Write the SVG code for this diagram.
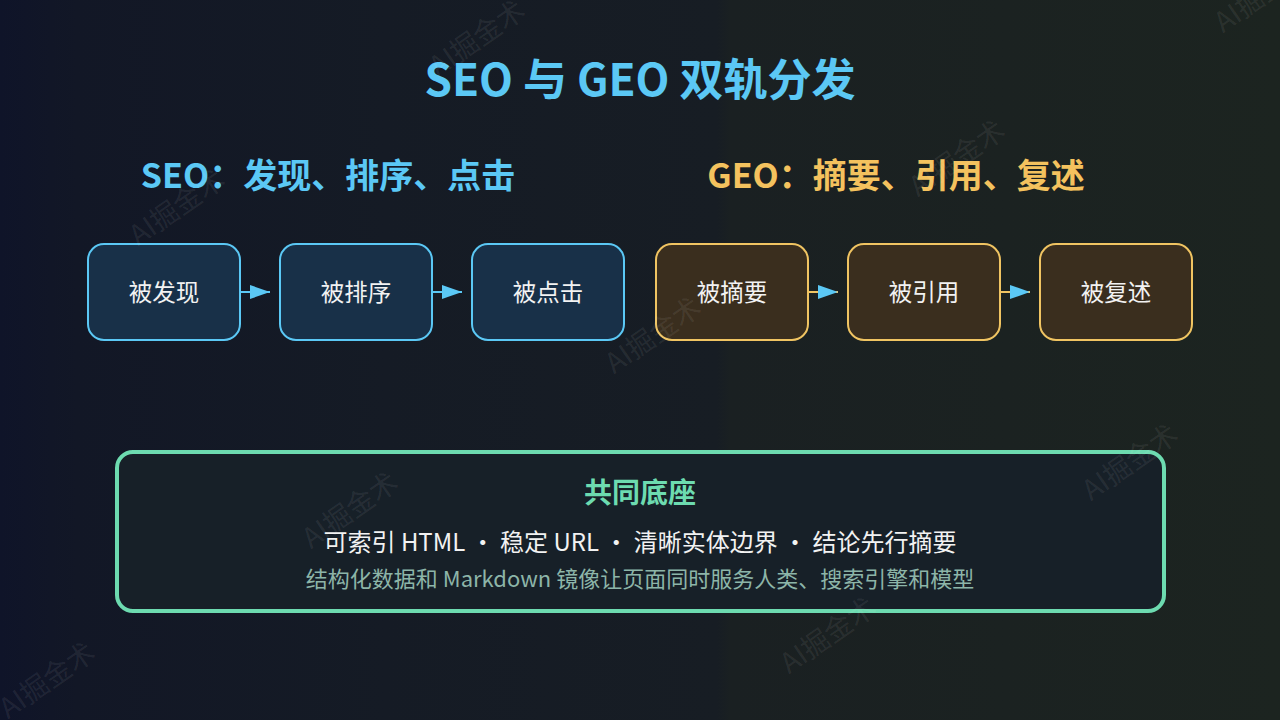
<svg xmlns="http://www.w3.org/2000/svg" width="1280" height="720" viewBox="0 0 1280 720">
<defs>
<linearGradient id="bg" x1="0" y1="0" x2="1" y2="0">
<stop offset="0" stop-color="#0f1429"/>
<stop offset="0.06" stop-color="#121726"/>
<stop offset="0.3" stop-color="#151b25"/>
<stop offset="0.56" stop-color="#171d24"/>
<stop offset="0.57" stop-color="#1a2022"/>
<stop offset="1" stop-color="#1c2420"/>
</linearGradient>
<marker id="ah" viewBox="0 0 20 14" refX="20" refY="7" markerWidth="20" markerHeight="14" markerUnits="userSpaceOnUse" orient="auto">
<path d="M0,0 L20,7 L0,14 Z" fill="#5bc8f5"/>
</marker>
<style>
text{font-family:"Noto Sans CJK SC","Noto Sans",sans-serif;}
.wm{font-size:28px;fill:#ffffff;fill-opacity:0.08;text-anchor:middle;}
.seo rect{fill:#183048;stroke:#5bc8f5;stroke-width:2;}
.geo rect{fill:#3a2e1e;stroke:#f0c462;stroke-width:2;}
.node text{font-size:23.5px;fill:#f2f2f2;text-anchor:middle;}
.c-seo{stroke:#5bc8f5;stroke-width:2;fill:none;}
.c-geo{stroke:#f0c462;stroke-width:2;fill:none;}
</style>
</defs>
<rect width="1280" height="720" fill="url(#bg)"/>
<g id="title">
<text x="640" y="96" font-size="44" font-weight="700" fill="#5bc8f5" text-anchor="middle">SEO 与 GEO 双轨分发</text>
</g>
<g id="seo-heading">
<text x="328" y="188" font-size="34" font-weight="700" fill="#5bc8f5" text-anchor="middle">SEO：发现、排序、点击</text>
</g>
<g id="geo-heading">
<text x="896" y="188" font-size="34" font-weight="700" fill="#f4c25e" text-anchor="middle">GEO：摘要、引用、复述</text>
</g>
<g id="connectors">
<line class="c-seo" x1="240" y1="292" x2="270" y2="292" marker-end="url(#ah)"/>
<line class="c-seo" x1="432" y1="292" x2="462" y2="292" marker-end="url(#ah)"/>
<line class="c-geo" x1="808" y1="292" x2="838" y2="292" marker-end="url(#ah)"/>
<line class="c-geo" x1="1000" y1="292" x2="1030" y2="292" marker-end="url(#ah)"/>
</g>
<g id="node-discovered" class="node seo"><rect x="88" y="244" width="152" height="96" rx="16"/><text x="164" y="301">被发现</text></g>
<g id="node-ranked" class="node seo"><rect x="280" y="244" width="152" height="96" rx="16"/><text x="356" y="301">被排序</text></g>
<g id="node-clicked" class="node seo"><rect x="472" y="244" width="152" height="96" rx="16"/><text x="548" y="301">被点击</text></g>
<g id="node-summarized" class="node geo"><rect x="656" y="244" width="152" height="96" rx="16"/><text x="732" y="301">被摘要</text></g>
<g id="node-cited" class="node geo"><rect x="848" y="244" width="152" height="96" rx="16"/><text x="924" y="301">被引用</text></g>
<g id="node-restated" class="node geo"><rect x="1040" y="244" width="152" height="96" rx="16"/><text x="1116" y="301">被复述</text></g>
<g id="foundation">
<rect x="117" y="452" width="1047" height="159" rx="16" fill="#172028" stroke="#6ddbb0" stroke-width="4"/>
<text x="640" y="503" font-size="28" font-weight="700" fill="#6ddbb0" text-anchor="middle">共同底座</text>
<text x="640" y="551" font-size="24" fill="#f2f2f2" text-anchor="middle">可索引 HTML · 稳定 URL · 清晰实体边界 · 结论先行摘要</text>
<text x="640" y="587" font-size="22" fill="#8db5a8" text-anchor="middle">结构化数据和 Markdown 镜像让页面同时服务人类、搜索引擎和模型</text>
</g>
<g id="watermarks">
<text class="wm" transform="translate(477,38) rotate(-35)" dy="10">AI掘金术</text>
<text class="wm" transform="translate(177,207) rotate(-35)" dy="10">AI掘金术</text>
<text class="wm" transform="translate(957,158) rotate(-35)" dy="10">AI掘金术</text>
<text class="wm" transform="translate(653,335) rotate(-35)" dy="10">AI掘金术</text>
<text class="wm" transform="translate(1130,462) rotate(-35)" dy="10">AI掘金术</text>
<text class="wm" transform="translate(350,510) rotate(-35)" dy="10">AI掘金术</text>
<text class="wm" transform="translate(828,635) rotate(-35)" dy="10">AI掘金术</text>
<text class="wm" transform="translate(47,680) rotate(-35)" dy="10">AI掘金术</text>
<text class="wm" transform="translate(1262,-6) rotate(-35)" dy="10">AI掘金术</text>
</g>
</svg>
